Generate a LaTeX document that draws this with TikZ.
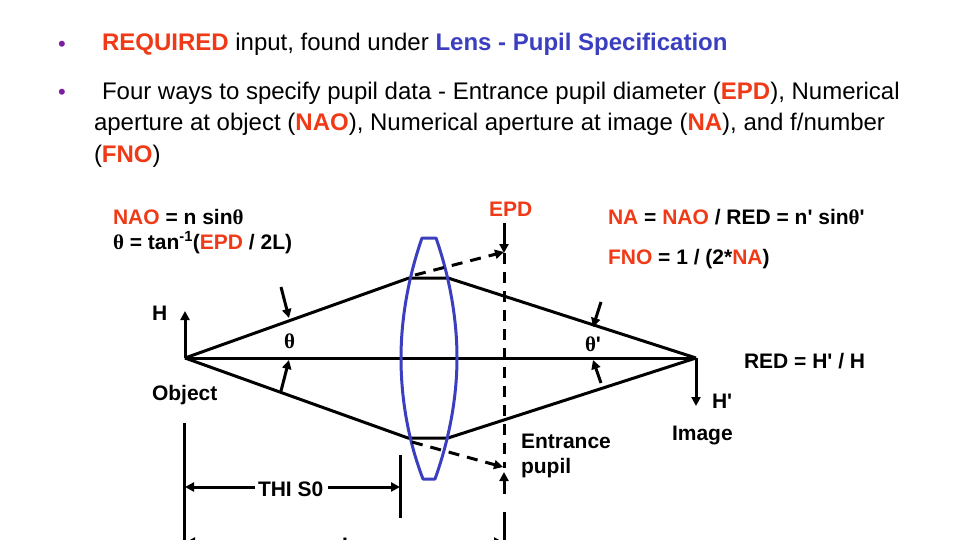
\documentclass[tikz,border=0pt]{standalone}
\usepackage{fontspec}
\setmainfont{Liberation Sans}[Ligatures=TeXOff]
\newfontfamily\symf{Liberation Serif}[Ligatures=TeXOff]
\usetikzlibrary{arrows.meta}
\definecolor{hot}{HTML}{F03A17}
\definecolor{lensblue}{HTML}{3B3FBF}
\definecolor{bulletc}{HTML}{7B1FA2}
\newcommand{\hot}[1]{\textcolor{hot}{\textbf{#1}}}
\newcommand{\thet}{{\symf\bfseries θ}}
\tikzset{
  body/.style={anchor=base west,inner sep=0,outer sep=0,font=\fontsize{24}{28}\selectfont},
  lab/.style={anchor=base west,inner sep=0,outer sep=0,font=\fontsize{21}{25}\selectfont\bfseries},
  ray/.style={line width=3pt,line join=round},
  dashray/.style={line width=3pt,dash pattern=on 11pt off 8pt},
  arr/.style={line width=3pt,-{Triangle[length=9pt,width=9pt]}},
  lens/.style={line width=3pt,draw=lensblue,line join=round}
}
\begin{document}
\begin{tikzpicture}[x=1pt,y=-1pt]
\useasboundingbox (0,0) rectangle (960,540);
\clip (0,0) rectangle (960,540);
\fill[white] (0,0) rectangle (960,540);
% bullets
\node[body,text=bulletc,font=\fontsize{22}{26}\selectfont] (b1) at (58,52) {•};
\node[body,text=bulletc,font=\fontsize{22}{26}\selectfont] (b2) at (58,100) {•};
\node[body] (t1) at (102,51) {\hot{REQUIRED} input, found under \textcolor{lensblue}{\textbf{Lens - Pupil Specification}}};
\node[body] (t2) at (102,100) {Four ways to specify pupil data - Entrance pupil diameter (\hot{EPD}), Numerical};
\node[body] (t3) at (94,131) {aperture at object (\hot{NAO}), Numerical aperture at image (\hot{NA}), and f/number};
\node[body] (t4) at (94,163) {(\hot{FNO})};
% labels
\node[lab] (nao) at (113,224) {\hot{NAO} = n sin\thet};
\node[lab] (tan) at (113,249) {\thet{} = tan\textsuperscript{-1}(\hot{EPD} / 2L)};
\node[lab] (epd) at (489,216) {\hot{EPD}};
\node[lab] (na) at (608,224) {\hot{NA} = \hot{NAO} / RED = n' sin\thet'};
\node[lab] (fno) at (608,264) {\hot{FNO} = 1 / (2*\hot{NA})};
\node[lab] (red) at (744,368) {RED = H' / H};
\node[lab] (h) at (152,320) {H};
\node[lab] (hp) at (712,408) {H'};
\node[lab] (obj) at (152,400) {Object};
\node[lab] (img) at (672,440) {Image};
\node[lab] (th) at (284,348) {\thet};
\node[lab] (thp) at (585,351) {\thet'};
\node[lab] (ent) at (521,448) {Entrance};
\node[lab] (pup) at (521,473) {pupil};
\node[lab] (thi) at (258,496) {THI S0};
\node[lab] (ell) at (342,552) {L};
% points
\coordinate (O) at (185,358);
\coordinate (I) at (696,358);
\coordinate (A) at (409,278);
\coordinate (B) at (448,278);
\coordinate (C) at (408,438);
\coordinate (D) at (448,438);
% rays
\draw[ray] (O) -- (I);
\draw[ray] (O) -- (A) -- (B) -- (I);
\draw[ray] (O) -- (C) -- (D) -- (I);
% lens
\draw[lens] (422,238) -- (436,238) .. controls (450,278) and (457,320) .. (457,358)
  .. controls (457,398) and (449,440) .. (435,479) -- (423,479)
  .. controls (408,440) and (401,398) .. (401,358)
  .. controls (401,320) and (408,278) .. (422,238) -- cycle;
% object / image heights
\coordinate (Ht) at (185,311);
\coordinate (Hb) at (696,406);
\draw[arr] (O) -- (Ht);
\draw[arr] (I) -- (Hb);
% angle arrows
\coordinate (a1s) at (281,287); \coordinate (a1e) at (289,318);
\coordinate (a2s) at (281,391); \coordinate (a2e) at (289,360);
\coordinate (a3s) at (601,302); \coordinate (a3e) at (593,327);
\coordinate (a4s) at (601,383); \coordinate (a4e) at (593,360);
\draw[arr] (a1s) -- (a1e);
\draw[arr] (a2s) -- (a2e);
\draw[arr] (a3s) -- (a3e);
\draw[arr] (a4s) -- (a4e);
% entrance pupil
\coordinate (Pa) at (504,223);
\coordinate (Pb) at (504,253);
\coordinate (Pc) at (504,468);
\coordinate (Pd) at (504,494);
\coordinate (Pe) at (504,472);
\coordinate (Pf) at (504,512);
\coordinate (Pg) at (504,545);
\draw[arr] (Pa) -- (Pb);
\draw[dashray] (Pb) -- (Pc);
\draw[arr] (Pd) -- (Pe);
\draw[ray] (Pf) -- (Pg);
% dashed chief rays
\coordinate (Ds1) at (415,275); \coordinate (De1) at (504,252);
\coordinate (Ds2) at (412,442); \coordinate (De2) at (503,467);
\draw[dashray,-{Triangle[length=9pt,width=9pt]}] (Ds1) -- (De1);
\draw[dashray,-{Triangle[length=9pt,width=9pt]}] (Ds2) -- (De2);
% dimension lines
\coordinate (V1t) at (184,423); \coordinate (V1b) at (184,545);
\coordinate (V2t) at (400,455); \coordinate (V2b) at (400,518);
\draw[ray] (V1t) -- (V1b);
\draw[ray] (V2t) -- (V2b);
\coordinate (T1) at (185,487); \coordinate (T2) at (400,487);
\coordinate (T1s) at (255,487); \coordinate (T2s) at (328,487);
\draw[arr] (T1s) -- (T1);
\draw[arr] (T2s) -- (T2);
\coordinate (L1) at (186,542); \coordinate (L2) at (503,542);
\coordinate (L1s) at (335,542); \coordinate (L2s) at (365,542);
\draw[arr] (L1s) -- (L1);
\draw[arr] (L2s) -- (L2);
\end{tikzpicture}
\end{document}
